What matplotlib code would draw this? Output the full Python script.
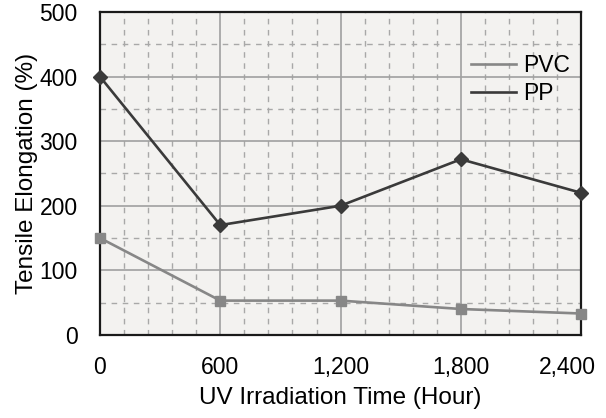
import matplotlib
matplotlib.use("Agg")
import matplotlib.pyplot as plt
from matplotlib.ticker import MultipleLocator
from matplotlib.transforms import ScaledTranslation

plt.rcParams['font.family'] = ['Liberation Sans', 'DejaVu Sans']

hours = [0, 600, 1200, 1800, 2400]
pvc = [150, 53, 53, 40, 33]
pp = [400, 170, 200, 272, 220]
x_ticklabels = ["0", "600", "1,200", "1,800", "2,400"]
y_ticks = [0, 100, 200, 300, 400, 500]

fig = plt.figure(figsize=(6.06, 4.18), dpi=100)
ax = fig.add_axes([0.165, 0.199, 0.794, 0.772])
ax.set_facecolor('#f3f2f0')

ax.plot(hours, pvc, color='#878787', lw=1.9, marker='s', markersize=7.2,
        clip_on=False, zorder=4, label='PVC')
ax.plot(hours, pp, color='#3a3a3a', lw=1.9, marker='D', markersize=6.8,
        clip_on=False, zorder=5, label='PP')

ax.set_xlim(0, 2400)
ax.set_ylim(0, 500)
ax.set_xticks(hours)
ax.set_xticklabels(x_ticklabels)
ax.set_yticks(y_ticks)
ax.xaxis.set_minor_locator(MultipleLocator(120))
ax.yaxis.set_minor_locator(MultipleLocator(50))

ax.grid(which='major', color='#a0a0a0', lw=1.2, ls='-', zorder=0)
ax.grid(which='minor', color='#a8a8a8', lw=1.0, ls=(0, (4, 4)), zorder=0)
ax.set_axisbelow(True)

ax.tick_params(which='both', length=0)
ax.tick_params(axis='x', pad=15, labelsize=16.5)
ax.tick_params(axis='y', pad=16, labelsize=16.5)

for s in ax.spines.values():
    s.set_color('#1a1a1a')
    s.set_linewidth(1.6)

ax.set_xlabel('UV Irradiation Time (Hour)', fontsize=17.5, labelpad=6)
ax.set_ylabel('Tensile Elongation (%)', fontsize=17.5, labelpad=1)

leg = ax.legend(loc='upper right', frameon=False, fontsize=16.5,
                handlelength=2.0, handletextpad=0.3, labelspacing=0.22,
                bbox_to_anchor=(1.02, 0.935))
for h in leg.legend_handles:
    h.set_marker('')

fig.canvas.draw()
lab = ax.get_xticklabels()[-1]
lab.set_transform(lab.get_transform() + ScaledTranslation(-0.14, 0, fig.dpi_scale_trans))

fig.savefig('out.png', dpi=100)
